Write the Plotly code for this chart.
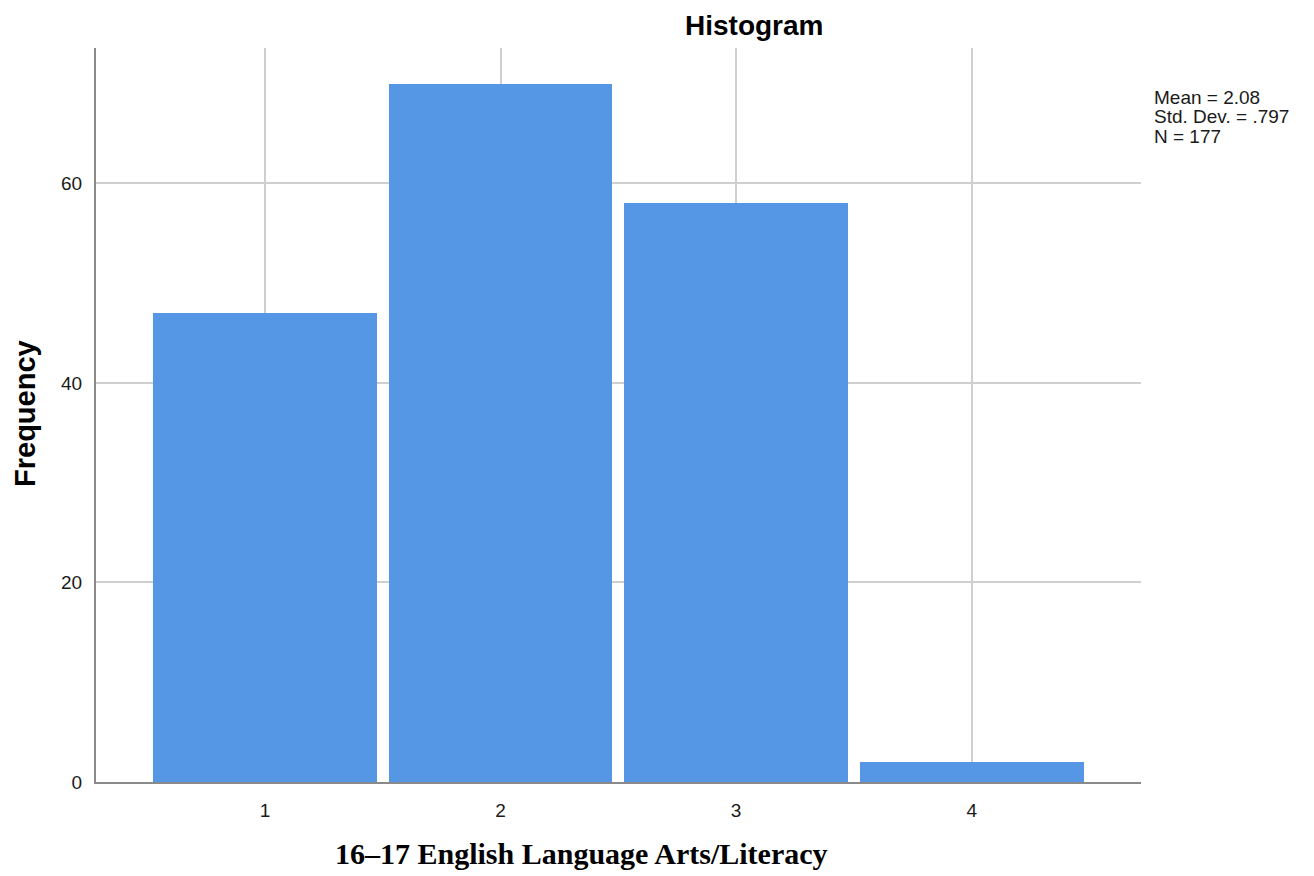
import plotly.graph_objects as go

categories = [1, 2, 3, 4]
frequencies = [47, 70, 58, 2]
y_ticks = [0, 20, 40, 60]
stats_lines = ["Mean = 2.08", "Std. Dev. = .797", "N = 177"]
title_text = "Histogram"
y_title = "Frequency"
caption = "16\u201317 English Language Arts/Literacy"

# page body has an 8px margin; compensate so the figure lands on the reference pixels
OFF = 8
W, H = 1314 - OFF, 876 - OFF
L, R, T, B = 96, 1141, 48, 782  # target screen pixels of plot area
pw, ph = R - L, B - T

def px(x):
    return (x - L) / pw

def py(y):
    return (B - y) / ph

fig = go.Figure()
fig.add_trace(go.Bar(
    x=categories, y=frequencies, width=0.95,
    marker=dict(color="#5596E5", line=dict(width=0)),
    showlegend=False,
))

annotations = [
    dict(text=f"<b>{title_text}</b>", x=px(754), y=py(26), xref="paper", yref="paper",
         xanchor="center", yanchor="middle", showarrow=False,
         font=dict(family="Liberation Sans", size=28, color="#000000")),
    dict(text=f"<b>{y_title}</b>", x=px(25), y=py(414), xref="paper", yref="paper",
         xanchor="center", yanchor="middle", textangle=-90, showarrow=False,
         font=dict(family="Liberation Sans", size=29, color="#000000")),
    dict(text=f"<b>{caption}</b>", x=px(581), y=py(853), xref="paper", yref="paper",
         xanchor="center", yanchor="middle", showarrow=False,
         font=dict(family="Liberation Serif", size=30, color="#000000")),
]
for i, line in enumerate(stats_lines):
    annotations.append(dict(
        text=line, x=px(1152), y=py(97.5 + 19.3 * i), xref="paper", yref="paper",
        xanchor="left", yanchor="middle", showarrow=False,
        font=dict(family="Liberation Sans", size=19, color="#1a1a1a")))

fig.update_layout(
    width=W, height=H,
    margin=dict(l=L - OFF, r=1314 - R, t=T - OFF, b=876 - B, pad=0),
    paper_bgcolor="white", plot_bgcolor="white",
    bargap=0,
    annotations=annotations,
    xaxis=dict(
        range=[0.2827, 4.7186], tickvals=categories, ticktext=[str(c) for c in categories],
        showgrid=True, gridcolor="#cfcfcf", gridwidth=1.5,
        showline=True, linecolor="#8a8a8a", linewidth=2,
        zeroline=False, ticks="", ticklabelstandoff=10,
        tickfont=dict(family="Liberation Sans", size=19, color="#1a1a1a"),
    ),
    yaxis=dict(
        range=[0, 73.57], tickvals=y_ticks,
        showgrid=True, gridcolor="#cfcfcf", gridwidth=1.5,
        showline=True, linecolor="#8a8a8a", linewidth=2,
        zeroline=False, ticks="", ticklabelstandoff=8,
        tickfont=dict(family="Liberation Sans", size=19, color="#1a1a1a"),
    ),
)

fig.write_html("out.html")
